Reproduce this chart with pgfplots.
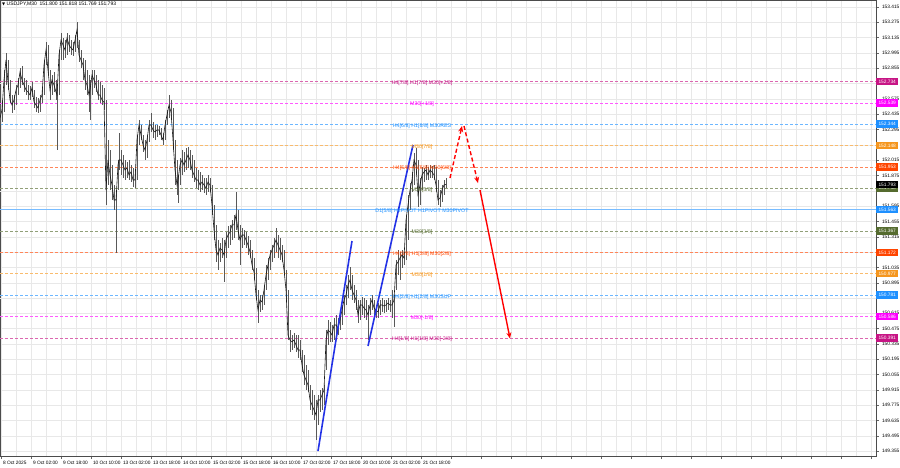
\documentclass[border=0pt]{standalone}
\usepackage{pgfplots}
\pgfplotsset{compat=1.18}
\usepackage{pgfplotstable}
\usepackage{fontspec}
\setmainfont{Liberation Sans}
\newfontfamily\symfont{DejaVu Sans}
\usetikzlibrary{arrows.meta}
\definecolor{mvr}{RGB}{199,21,133}
\definecolor{mag}{RGB}{255,0,255}
\definecolor{dblue}{RGB}{30,144,255}
\definecolor{orng}{RGB}{245,150,30}
\definecolor{ored}{RGB}{255,69,0}
\definecolor{olv}{RGB}{85,107,47}
\definecolor{tblue}{RGB}{35,50,230}
\definecolor{gridc}{RGB}{232,232,232}

\pgfplotstableread{
x hi lo cl
0 152.519 152.336 152.400
2 152.565 152.364 152.474
4 152.839 152.455 152.748
6 152.995 152.702 152.931
8 152.931 152.656 152.730
10 152.748 152.538 152.565
12 152.611 152.446 152.519
14 152.611 152.474 152.565
16 152.702 152.519 152.656
18 152.766 152.611 152.702
20 152.858 152.675 152.821
22 152.876 152.702 152.748
24 152.766 152.638 152.702
26 152.748 152.611 152.656
28 152.702 152.565 152.638
30 152.693 152.565 152.611
32 152.730 152.592 152.675
34 152.656 152.492 152.547
36 152.592 152.455 152.519
38 152.583 152.446 152.492
40 152.611 152.455 152.565
42 152.675 152.538 152.611
44 152.931 152.611 152.885
46 153.095 152.885 153.022
48 153.068 152.794 152.839
50 152.839 152.565 152.656
52 152.794 152.611 152.748
54 152.821 152.638 152.702
56 152.748 152.565 152.638
57 152.702 152.108 152.611
59 153.022 152.611 152.976
61 153.177 152.931 153.113
63 153.132 152.931 153.068
65 153.113 152.949 153.022
67 153.177 152.976 153.132
69 153.159 153.004 153.068
71 153.113 152.976 153.040
73 153.095 152.967 153.022
75 153.159 153.004 153.113
77 153.278 153.040 153.205
79 153.113 152.912 152.976
81 153.022 152.858 152.931
83 152.949 152.748 152.885
85 152.931 152.656 152.748
87 152.839 152.611 152.702
89 152.794 152.455 152.611
90 152.748 152.382 152.656
92 152.839 152.611 152.794
94 152.839 152.675 152.748
96 152.794 152.638 152.702
98 152.748 152.565 152.611
100 152.730 152.538 152.611
102 152.702 152.519 152.565
104 152.675 152.474 152.547
106 152.565 151.605 151.742
108 152.199 151.788 152.017
110 152.108 151.742 151.880
112 151.971 151.651 151.788
114 151.788 151.560 151.651
116 151.742 151.167 151.651
118 152.017 151.742 151.971
119 152.263 151.925 152.017
121 152.108 151.880 152.017
123 152.062 151.852 151.971
125 152.017 151.834 151.925
127 151.998 151.852 151.944
129 152.017 151.834 151.880
131 151.971 151.815 151.907
133 151.944 151.770 151.834
135 151.925 151.761 151.834
137 152.245 151.834 152.199
139 152.382 152.154 152.336
141 152.336 152.199 152.245
143 152.245 152.090 152.154
145 152.199 152.017 152.108
147 152.245 152.035 152.199
149 152.382 152.181 152.336
151 152.446 152.273 152.336
153 152.364 152.218 152.291
155 152.336 152.199 152.273
157 152.336 152.227 152.291
159 152.327 152.245 152.291
161 152.309 152.199 152.245
163 152.263 152.154 152.199
165 152.382 152.199 152.336
167 152.474 152.336 152.428
169 152.611 152.400 152.519
171 152.565 152.382 152.455
173 152.492 152.108 152.199
175 152.199 151.788 151.925
177 152.017 151.697 151.788
178 151.880 151.624 151.834
180 152.035 151.788 151.971
182 152.108 151.880 152.017
184 152.090 151.907 151.971
186 152.126 151.925 152.017
188 152.135 151.944 152.062
190 152.108 151.925 152.017
192 152.062 151.852 151.925
194 152.017 151.815 151.880
196 151.944 151.761 151.834
198 151.925 151.742 151.834
200 151.907 151.724 151.788
202 151.880 151.742 151.815
204 151.852 151.715 151.788
206 151.852 151.697 151.761
208 151.880 151.724 151.815
210 151.852 151.724 151.788
212 151.788 151.514 151.605
214 151.605 151.285 151.377
216 151.423 151.084 151.194
218 151.285 151.011 151.148
220 151.258 151.084 151.212
222 151.304 151.121 151.194
224 151.285 150.902 151.148
226 151.358 151.121 151.285
228 151.413 151.212 151.331
230 151.423 151.240 151.358
232 151.468 151.285 151.423
234 151.514 151.304 151.423
236 151.724 151.377 151.514
238 151.560 151.285 151.377
240 151.423 151.057 151.285
242 151.395 151.212 151.331
244 151.377 151.240 151.331
246 151.358 151.212 151.285
248 151.322 151.148 151.240
250 151.285 151.121 151.176
252 151.194 151.011 151.057
254 151.121 150.920 150.993
256 151.030 150.737 150.783
258 150.829 150.527 150.645
260 150.783 150.627 150.737
262 150.783 150.645 150.719
264 150.874 150.691 150.829
266 151.057 150.829 150.965
268 151.121 150.920 151.057
270 151.194 151.011 151.148
272 151.240 151.084 151.194
274 151.304 151.121 151.240
276 151.395 151.176 151.285
278 151.331 151.121 151.240
280 151.304 151.102 151.194
282 151.240 151.084 151.148
284 151.194 150.965 151.011
286 151.011 150.737 150.829
288 150.829 150.371 150.417
290 150.463 150.262 150.371
292 150.417 150.280 150.353
294 150.435 150.298 150.371
296 150.417 150.262 150.326
298 150.417 150.207 150.280
300 150.371 150.188 150.280
302 150.280 150.079 150.143
304 150.234 149.960 150.051
306 150.143 149.914 150.005
308 150.097 149.896 149.960
310 149.960 149.732 149.823
312 149.914 149.686 149.777
314 149.869 149.640 149.732
316 149.823 149.457 149.686
318 149.869 149.595 149.823
320 149.914 149.713 149.823
322 149.933 149.732 149.869
324 149.960 149.777 149.914
326 150.463 150.097 150.371
328 150.554 150.326 150.463
330 150.536 150.353 150.445
332 150.508 150.353 150.417
334 150.572 150.371 150.508
336 150.600 150.390 150.508
338 150.572 150.417 150.481
340 150.627 150.463 150.554
342 150.691 150.508 150.645
344 150.783 150.600 150.737
346 150.874 150.691 150.783
348 150.965 150.755 150.874
350 151.039 150.829 150.920
352 150.965 150.737 150.829
354 150.874 150.710 150.783
356 150.829 150.645 150.737
358 150.737 150.527 150.600
360 150.737 150.554 150.691
362 150.764 150.600 150.691
364 150.755 150.572 150.664
366 150.737 150.554 150.645
368 150.691 150.371 150.600
370 150.755 150.600 150.691
372 150.783 150.645 150.737
374 150.737 150.600 150.664
376 150.691 150.572 150.645
378 150.710 150.572 150.627
380 150.737 150.600 150.691
382 150.755 150.627 150.691
384 150.737 150.618 150.682
386 150.737 150.627 150.691
388 150.755 150.645 150.710
390 150.737 150.627 150.691
392 150.829 150.572 150.691
394 150.783 150.490 150.737
396 151.102 150.829 151.057
398 151.194 150.965 151.084
400 151.176 150.920 151.121
402 151.194 151.030 151.148
404 151.176 151.057 151.121
406 151.514 151.102 151.468
408 151.697 151.285 151.605
410 151.806 151.560 151.742
412 151.907 151.724 151.834
414 152.081 151.788 152.017
416 152.126 151.880 151.971
418 152.017 151.587 151.697
420 151.852 151.605 151.788
422 151.953 151.742 151.880
424 151.944 151.815 151.907
426 151.971 151.834 151.925
428 151.953 151.834 151.880
430 151.971 151.852 151.925
432 151.962 151.852 151.907
434 151.971 151.834 151.880
436 151.953 151.724 151.788
438 151.834 151.605 151.651
440 151.742 151.587 151.669
442 151.788 151.633 151.742
444 151.834 151.697 151.788
446 151.852 151.761 151.793
}\candles

\tikzset{
  lvl/.style={line width=0.5pt, dash pattern=on 3pt off 2pt},
  lbl/.style={font=\fontsize{5.3}{6}\selectfont, inner sep=0pt, yshift=-1.5pt},
  pbox/.style={anchor=west, inner sep=0pt, minimum width=22pt, minimum height=7.5pt, text=white, font=\fontsize{4.8}{5.5}\selectfont}
}

\begin{document}
\begin{tikzpicture}[x=1pt,y=1pt]
\path[use as bounding box] (0,0) rectangle (900,-468);
\begin{axis}[
  at={(0pt,0pt)}, anchor=north west,
  scale only axis, width=876pt, height=456pt,
  xmin=0, xmax=876, ymin=149.311, ymax=153.479,
  axis line style={draw=black!70, line width=0.6pt},
  xtick={1,31,...,871},
  xticklabels={8 Oct 2025, 9 Oct 02:00, 9 Oct 18:00, 10 Oct 10:00, 13 Oct 02:00, 13 Oct 18:00, 14 Oct 10:00, 15 Oct 02:00, 15 Oct 18:00, 16 Oct 10:00, 17 Oct 02:00, 17 Oct 18:00, 20 Oct 10:00, 21 Oct 02:00, 21 Oct 18:00},
  minor x tick num=1,
  ytick={149.355,149.495,149.635,149.775,149.915,150.055,150.195,150.335,150.475,150.615,150.895,151.035,151.315,151.455,151.595,151.875,152.015,152.295,152.435,152.575,152.855,152.995,153.135,153.275,153.415},
  extra y ticks={150.755,151.175,151.735,152.155,152.715},
  extra y tick labels={},
  scaled y ticks=false,
  xtick pos=bottom, ytick pos=right, yticklabel pos=right,
  tick align=outside, major tick length=3pt, minor tick length=0pt,
  tick style={black!60, line width=0.4pt},
  grid=both, major grid style={gridc, line width=0.4pt}, minor grid style={gridc, line width=0.4pt},
  extra tick style={grid=major, major grid style={gridc, line width=0.4pt}},
  /pgf/number format/assume math mode=true,
  y tick label style={font=\fontsize{4.8}{5.5}\selectfont, anchor=west, xshift=-0.5pt,
    /pgf/number format/.cd, fixed, fixed zerofill, precision=3, 1000 sep={}},
  x tick label style={font=\fontsize{4.8}{5.5}\selectfont, anchor=north west, xshift=-1.5pt, yshift=1pt},
  clip=false,
]
% levels
\addplot[lvl, mvr!65!white] coordinates {(0,152.734) (876,152.734)};
\addplot[lvl, mag!65!white] coordinates {(0,152.539) (876,152.539)};
\addplot[lvl, dblue!65!white] coordinates {(0,152.344) (876,152.344)};
\addplot[lvl, orng!65!white] coordinates {(0,152.148) (876,152.148)};
\addplot[lvl, ored!65!white] coordinates {(0,151.953) (876,151.953)};
\addplot[lvl, olv!65!white] coordinates {(0,151.758) (876,151.758)};
\addplot[dblue!60!white, line width=0.6pt] coordinates {(0,151.563) (876,151.563)};
\addplot[lvl, olv!65!white] coordinates {(0,151.367) (876,151.367)};
\addplot[lvl, ored!65!white] coordinates {(0,151.172) (876,151.172)};
\addplot[lvl, orng!65!white] coordinates {(0,150.977) (876,150.977)};
\addplot[lvl, dblue!65!white] coordinates {(0,150.781) (876,150.781)};
\addplot[lvl, mag!65!white] coordinates {(0,150.586) (876,150.586)};
\addplot[lvl, mvr!65!white] coordinates {(0,150.391) (876,150.391)};
% candles
\addplot[draw=none, mark=none, error bars/.cd, y dir=both, y explicit, error mark=none,
  error bar style={draw=black!65, line width=0.7pt, solid}]
  table[x=x, y=cl, y error plus expr={\thisrow{hi}-\thisrow{cl}}, y error minus expr={\thisrow{cl}-\thisrow{lo}}] {\candles};
\addplot[black!90, line width=0.6pt, mark=none] table[x=x, y=cl] {\candles};
% trend lines
\addplot[tblue, line width=1.6pt] coordinates {(318,149.356) (352,151.276)};
\addplot[tblue, line width=1.6pt] coordinates {(368,150.316) (413,152.154)};
% projection arrows
\addplot[red, line width=1.4pt, dash pattern=on 4pt off 2.5pt, -{Stealth[length=6pt,width=5pt]}] coordinates {(450,151.852) (462,152.327)};
\addplot[red, line width=1.4pt, dash pattern=on 4pt off 2.5pt, -{Stealth[length=6pt,width=5pt]}] coordinates {(464,152.327) (478,151.806)};
\addplot[red, line width=1.4pt, -{Stealth[length=6pt,width=5pt]}] coordinates {(480,151.742) (510,150.385)};
% level labels
\node[lbl, text=mvr] at (axis cs:422,152.734) {H4[7/8] H1[7/8] M30[+2/8]};
\node[lbl, text=mag] at (axis cs:422,152.539) {M30[+1/8]};
\node[lbl, text=dblue] at (axis cs:422,152.344) {H4[6/8] H1[6/8] M30RES};
\node[lbl, text=orng] at (axis cs:422,152.148) {M30[7/8]};
\node[lbl, text=ored] at (axis cs:422,151.953) {H4[5/8] H1[5/8] M30[6/8]};
\node[lbl, text=olv] at (axis cs:422,151.758) {M30[5/8]};
\node[lbl, text=dblue] at (axis cs:422,151.563) {D1[5/8] H4PIVOT H1PIVOT M30PIVOT};
\node[lbl, text=olv] at (axis cs:422,151.367) {M30[3/8]};
\node[lbl, text=ored] at (axis cs:422,151.172) {H4[3/8] H1[3/8] M30[2/8]};
\node[lbl, text=orng] at (axis cs:422,150.977) {M30[1/8]};
\node[lbl, text=dblue] at (axis cs:422,150.781) {H4[2/8] H1[2/8] M30SUP};
\node[lbl, text=mag] at (axis cs:422,150.586) {M30[-1/8]};
\node[lbl, text=mvr] at (axis cs:422,150.391) {H4[1/8] H1[1/8] M30[-2/8]};
% box anchors
\coordinate (b1) at (axis cs:876,152.734);
\coordinate (b2) at (axis cs:876,152.539);
\coordinate (b3) at (axis cs:876,152.344);
\coordinate (b4) at (axis cs:876,152.148);
\coordinate (b5) at (axis cs:876,151.953);
\coordinate (bp) at (axis cs:876,151.793);
\coordinate (b6) at (axis cs:876,151.758);
\coordinate (b7) at (axis cs:876,151.563);
\coordinate (b8) at (axis cs:876,151.367);
\coordinate (b9) at (axis cs:876,151.172);
\coordinate (b10) at (axis cs:876,150.977);
\coordinate (b11) at (axis cs:876,150.781);
\coordinate (b12) at (axis cs:876,150.586);
\coordinate (b13) at (axis cs:876,150.391);
\end{axis}
\node[pbox, fill=mvr] at (b1) {152.734};
\node[pbox, fill=mag] at (b2) {152.539};
\node[pbox, fill=dblue] at (b3) {152.344};
\node[pbox, fill=orng] at (b4) {152.148};
\node[pbox, fill=ored] at (b5) {151.953};
\node[pbox, fill=olv] at (b6) {151.758};
\node[pbox, fill=black] at (bp) {151.793};
\node[pbox, fill=dblue] at (b7) {151.563};
\node[pbox, fill=olv] at (b8) {151.367};
\node[pbox, fill=ored] at (b9) {151.172};
\node[pbox, fill=orng] at (b10) {150.977};
\node[pbox, fill=dblue] at (b11) {150.781};
\node[pbox, fill=mag] at (b12) {150.586};
\node[pbox, fill=mvr] at (b13) {150.391};
\node[anchor=west, inner sep=0pt, font=\fontsize{5}{6}\selectfont] at (2,-4.5) {{\symfont\fontsize{4}{5}\selectfont ▼}\ USDJPY,M30\ \ 151.800 151.818 151.769 151.793};
\end{tikzpicture}
\end{document}
